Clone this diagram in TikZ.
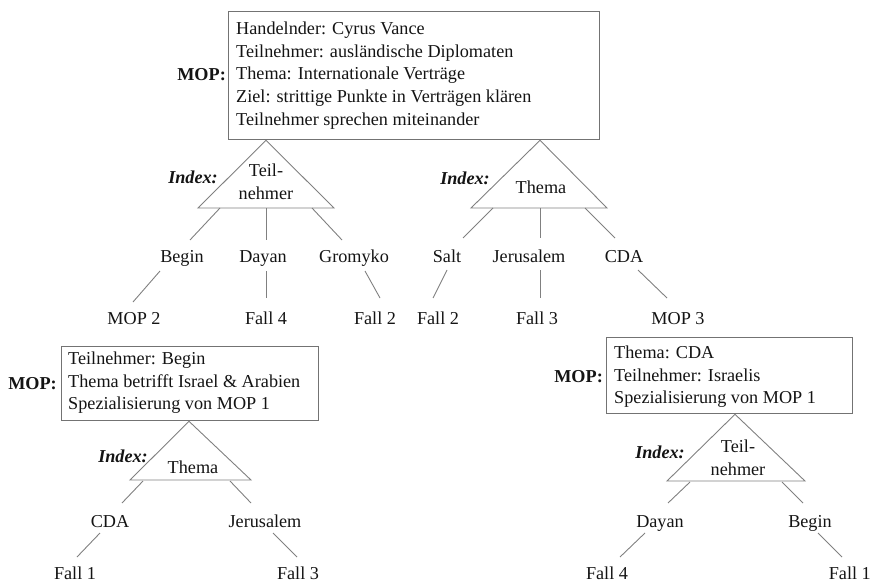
\documentclass[tikz,border=0pt]{standalone}
\usepackage{fontspec}
\setmainfont{Liberation Serif}
\usetikzlibrary{calc}
\begin{document}
\begin{tikzpicture}[x=1pt,y=-1pt]
\tikzset{
  txt/.style={inner sep=0pt, text=black!92, font=\fontsize{18.2}{22.75}\selectfont},
  lbl/.style={txt, anchor=base},
  moplbl/.style={txt, anchor=base east, font=\fontsize{18.2}{22.75}\selectfont\bfseries},
  idxlbl/.style={txt, anchor=base east, font=\fontsize{18.2}{22.75}\selectfont\bfseries\itshape},
  frame/.style={draw=black!55, line width=1.3pt, rectangle, inner sep=0pt, anchor=north west},
  boxtext/.style={txt, align=left, anchor=north west},
  tritxt/.style={txt, align=center, anchor=north},
  conn/.style={draw=black!50, line width=0.9pt},
  tri/.style={draw=black!50, line width=0.9pt, line join=miter},
}
\useasboundingbox (0,0) rectangle (872,583);

% ---------------- top MOP ----------------
\node[frame, minimum width=371pt, minimum height=128pt] (mop1) at (228,11) {};
\node[boxtext] (mop1txt) at (236,21.6) {Handelnder: Cyrus Vance\\Teilnehmer: ausländische Diplomaten\\Thema: Internationale Verträge\\Ziel: strittige Punkte in Verträgen klären\\Teilnehmer sprechen miteinander};
\node[moplbl] (mop1lbl) at (226,81) {MOP:};

% left index triangle
\coordinate (t1a) at ($(mop1.south west)+(38,0)$);
\coordinate (t1l) at (198,208);
\coordinate (t1r) at (334,208);
\draw[tri] (t1a) -- (t1l) -- (t1r) -- cycle;
\node[tritxt] (t1txt) at (266,163.6) {Teil-\\nehmer};
\node[idxlbl] (t1idx) at (218,183) {Index:};

\node[lbl] (begin1) at (182,262) {Begin};
\node[lbl] (dayan1) at (263,262) {Dayan};
\node[lbl] (gromyko1) at (354,262) {Gromyko};
\node[lbl] (mop2leaf) at (134,324) {MOP 2};
\node[lbl] (fall4a) at (266,324) {Fall 4};
\node[lbl] (fall2a) at (375,324) {Fall 2};

\coordinate (c1a) at (220,208); \coordinate (c1b) at (190,240);
\coordinate (c2a) at (266,208); \coordinate (c2b) at (266,240);
\coordinate (c3a) at (312,208); \coordinate (c3b) at (342,240);
\draw[conn] (c1a) -- (c1b);
\draw[conn] (c2a) -- (c2b);
\draw[conn] (c3a) -- (c3b);
\coordinate (d1a) at (160,271); \coordinate (d1b) at (133,302);
\coordinate (d2a) at (266,271); \coordinate (d2b) at (266,298);
\coordinate (d3a) at (365,271); \coordinate (d3b) at (380,298);
\draw[conn] (d1a) -- (d1b);
\draw[conn] (d2a) -- (d2b);
\draw[conn] (d3a) -- (d3b);

% right index triangle
\coordinate (t2a) at ($(mop1.south west)+(312,0)$);
\coordinate (t2l) at (471,208);
\coordinate (t2r) at (607,208);
\draw[tri] (t2a) -- (t2l) -- (t2r) -- cycle;
\node[lbl] (t2txt) at (541,193) {Thema};
\node[idxlbl] (t2idx) at (490,184) {Index:};

\node[lbl] (salt) at (447,262) {Salt};
\node[lbl] (jeru1) at (529,262) {Jerusalem};
\node[lbl] (cda1) at (624,262) {CDA};
\node[lbl] (fall2b) at (438,324) {Fall 2};
\node[lbl] (fall3a) at (537,324) {Fall 3};
\node[lbl] (mop3leaf) at (678,324) {MOP 3};

\coordinate (e1a) at (493,208); \coordinate (e1b) at (463,238);
\coordinate (e2a) at (540,208); \coordinate (e2b) at (540,238);
\coordinate (e3a) at (585,208); \coordinate (e3b) at (615,238);
\draw[conn] (e1a) -- (e1b);
\draw[conn] (e2a) -- (e2b);
\draw[conn] (e3a) -- (e3b);
\coordinate (f1a) at (447,270); \coordinate (f1b) at (433,298);
\coordinate (f2a) at (540,270); \coordinate (f2b) at (540,298);
\coordinate (f3a) at (638,270); \coordinate (f3b) at (667,298);
\draw[conn] (f1a) -- (f1b);
\draw[conn] (f2a) -- (f2b);
\draw[conn] (f3a) -- (f3b);

% ---------------- bottom-left MOP 2 ----------------
\node[frame, minimum width=257pt, minimum height=74pt] (mop2) at (61,346) {};
\node[boxtext] (mop2txt) at (68,351.6) {Teilnehmer: Begin\\Thema betrifft Israel \& Arabien\\Spezialisierung von MOP 1};
\node[moplbl] (mop2lbl) at (57,389) {MOP:};

\coordinate (t3a) at ($(mop2.south west)+(128,0)$);
\coordinate (t3l) at (130,480);
\coordinate (t3r) at (251,480);
\draw[tri] (t3a) -- (t3l) -- (t3r) -- cycle;
\node[lbl] (t3txt) at (193,473) {Thema};
\node[idxlbl] (t3idx) at (148,462) {Index:};

\node[lbl] (cda2) at (110,527) {CDA};
\node[lbl] (jeru2) at (265,527) {Jerusalem};
\node[lbl] (fall1a) at (75,579) {Fall 1};
\node[lbl] (fall3b) at (298,579) {Fall 3};

\coordinate (g1a) at (143,481); \coordinate (g1b) at (122,503);
\coordinate (g2a) at (230,481); \coordinate (g2b) at (251,503);
\draw[conn] (g1a) -- (g1b);
\draw[conn] (g2a) -- (g2b);
\coordinate (h1a) at (100,533); \coordinate (h1b) at (77,557);
\coordinate (h2a) at (273,533); \coordinate (h2b) at (297,557);
\draw[conn] (h1a) -- (h1b);
\draw[conn] (h2a) -- (h2b);

% ---------------- bottom-right MOP 3 ----------------
\node[frame, minimum width=246pt, minimum height=76pt] (mop3) at (606,337) {};
\node[boxtext] (mop3txt) at (614,345.6) {Thema: CDA\\Teilnehmer: Israelis\\Spezialisierung von MOP 1};
\node[moplbl] (mop3lbl) at (603,382) {MOP:};

\coordinate (t4a) at ($(mop3.south west)+(129,0)$);
\coordinate (t4l) at (667,481);
\coordinate (t4r) at (805,481);
\draw[tri] (t4a) -- (t4l) -- (t4r) -- cycle;
\node[tritxt] (t4txt) at (738,440) {Teil-\\nehmer};
\node[idxlbl] (t4idx) at (685,458) {Index:};

\node[lbl] (dayan2) at (660,527) {Dayan};
\node[lbl] (begin2) at (810,527) {Begin};
\node[lbl] (fall4b) at (607,579) {Fall 4};
\node[txt, anchor=base east] (fall1b) at (871,579) {Fall 1};

\coordinate (k1a) at (690,482); \coordinate (k1b) at (668,503);
\coordinate (k2a) at (782,482); \coordinate (k2b) at (803,503);
\draw[conn] (k1a) -- (k1b);
\draw[conn] (k2a) -- (k2b);
\coordinate (m1a) at (645,533); \coordinate (m1b) at (620,557);
\coordinate (m2a) at (818,533); \coordinate (m2b) at (842,557);
\draw[conn] (m1a) -- (m1b);
\draw[conn] (m2a) -- (m2b);
\end{tikzpicture}
\end{document}
